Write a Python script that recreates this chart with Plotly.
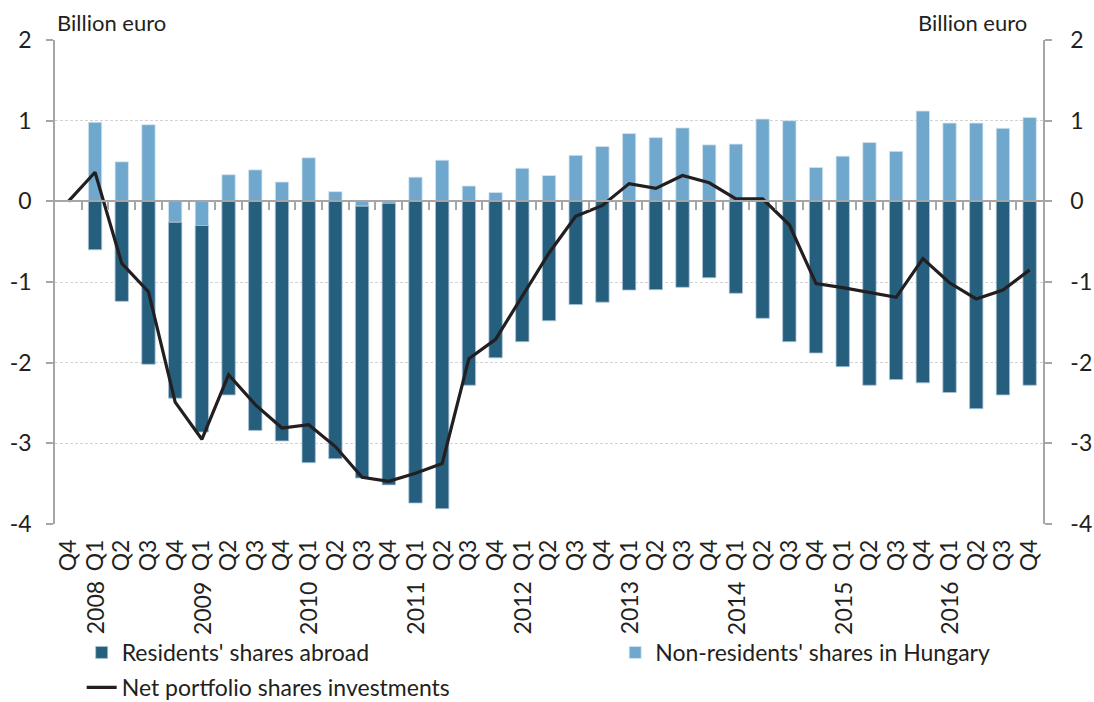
import plotly.graph_objects as go

quarters = ["Q4"] + ["Q1", "Q2", "Q3", "Q4"] * 9
years = ["2008", "2009", "2010", "2011", "2012", "2013", "2014", "2015", "2016"]
year_pos = [1, 5, 9, 13, 17, 21, 25, 29, 33]  # index of Q1 of each year

residents = [0, -0.60, -1.24, -2.02, -2.18, -2.56, -2.40, -2.84, -2.97, -3.24, -3.19,
             -3.37, -3.49, -3.74, -3.81, -2.28, -1.94, -1.74, -1.48, -1.28, -1.25,
             -1.10, -1.095, -1.066, -0.947, -1.14, -1.45, -1.74, -1.88, -2.05, -2.28,
             -2.21, -2.25, -2.37, -2.57, -2.40, -2.28]
non_residents = [0, 0.98, 0.49, 0.95, -0.26, -0.30, 0.33, 0.39, 0.24, 0.54, 0.12,
                 -0.06, -0.025, 0.30, 0.51, 0.19, 0.11, 0.41, 0.32, 0.57, 0.68,
                 0.84, 0.79, 0.91, 0.70, 0.71, 1.02, 1.00, 0.42, 0.56, 0.73,
                 0.62, 1.12, 0.97, 0.97, 0.905, 1.04]
net = [0, 0.36, -0.77, -1.12, -2.49, -2.95, -2.15, -2.52, -2.81, -2.77, -3.04,
       -3.42, -3.47, -3.37, -3.25, -1.95, -1.71, -1.17, -0.64, -0.185, -0.05,
       0.22, 0.16, 0.32, 0.23, 0.03, 0.03, -0.29, -1.02, -1.07, -1.13,
       -1.19, -0.71, -1.01, -1.21, -1.10, -0.85]

y_ticks = [2, 1, 0, -1, -2, -3, -4]
y_ticktext = [str(v) for v in y_ticks]

DARK = "#265E7E"
LIGHT = "#6FA8CC"
TXT = "#231F20"
AX = "#A6A6A6"
FONT = "Lato"
FS = 23

x = list(range(len(quarters)))

fig = go.Figure()
fig.add_trace(go.Bar(x=x, y=non_residents, name="Non-residents' shares in Hungary",
                     marker=dict(color=LIGHT, line=dict(color="#D6E6F0", width=0.8)),
                     legend="legend2"))
fig.add_trace(go.Bar(x=x, y=residents, name="Residents' shares abroad",
                     marker=dict(color=DARK, line=dict(color="#A9C4D6", width=0.8)),
                     legend="legend", legendgroup="a"))
fig.add_trace(go.Scatter(x=x, y=net, mode="lines", name="Net portfolio shares investments",
                         line=dict(color=TXT, width=3.2), legend="legend", legendgroup="b",
                         xaxis="x2", yaxis="y2"))

annotations = []
for yr, p in zip(years, year_pos):
    annotations.append(dict(x=p, y=-0.174, xref="x", yref="paper", text=yr,
                            showarrow=False, textangle=-90,
                            font=dict(size=FS, color=TXT, family=FONT),
                            xanchor="center", yanchor="middle"))
annotations.append(dict(x=0.0, y=1.037, xref="paper", yref="paper", text="Billion euro",
                        showarrow=False, xanchor="left", yanchor="middle",
                        font=dict(size=FS - 1, color=TXT, family=FONT)))
annotations.append(dict(x=0.986, y=1.037, xref="paper", yref="paper", text="Billion euro",
                        showarrow=False, xanchor="right", yanchor="middle",
                        font=dict(size=FS - 1, color=TXT, family=FONT)))

n = len(quarters)
legend_common = dict(orientation="v", yanchor="top", xanchor="left",
                     font=dict(size=FS, color=TXT, family=FONT),
                     bgcolor="rgba(0,0,0,0)", itemwidth=30, tracegroupgap=2,
                     traceorder="grouped")
fig.update_layout(
    width=1094, height=702,
    margin=dict(l=55, r=51, t=40, b=178, autoexpand=False),
    paper_bgcolor="white", plot_bgcolor="white",
    barmode="relative", bargap=0.5,
    font=dict(family=FONT, size=FS, color=TXT),
    xaxis=dict(range=[-0.5, n - 0.5], tickmode="array", tickvals=x, ticktext=quarters,
               tickangle=-90, showgrid=False, zeroline=False, showline=False,
               ticks="", ticklabelstandoff=10, tickfont=dict(size=FS, color=TXT)),
    xaxis2=dict(range=[-0.5, n - 0.5], overlaying="x", anchor="free", position=4 / 6,
                showgrid=False, zeroline=False, showline=True, linecolor=AX, linewidth=1.5,
                ticks="outside", ticklen=8, tickcolor=AX, tickwidth=1.5,
                tickmode="array", tickvals=[i + 0.5 for i in range(n - 1)],
                showticklabels=False),
    yaxis=dict(range=[-4, 2], tickmode="array", tickvals=y_ticks, ticktext=y_ticktext,
               showgrid=True, gridcolor="#D3D3D3", griddash="3px,2px", gridwidth=1,
               zeroline=False, showline=True, linecolor=AX, linewidth=1.5,
               ticks="outside", ticklen=7, tickcolor=AX, tickwidth=1.5,
               ticklabelstandoff=10, tickfont=dict(size=FS, color=TXT)),
    yaxis2=dict(range=[-4, 2], overlaying="y", side="right", anchor="x",
                tickmode="array", tickvals=y_ticks, ticktext=y_ticktext,
                showgrid=False, zeroline=False, showline=True, linecolor=AX, linewidth=1.5,
                ticks="outside", ticklen=7, tickcolor=AX, tickwidth=1.5,
                ticklabelstandoff=14, tickfont=dict(size=FS, color=TXT)),
    legend=dict(x=0.027, y=-0.221, **legend_common),
    legend2=dict(x=0.567, y=-0.221, **legend_common),
    annotations=annotations,
    showlegend=True,
)

fig.write_html("out.html", config={"displayModeBar": False},
               post_script="document.body.style.margin='0';document.body.style.overflow='hidden';")
